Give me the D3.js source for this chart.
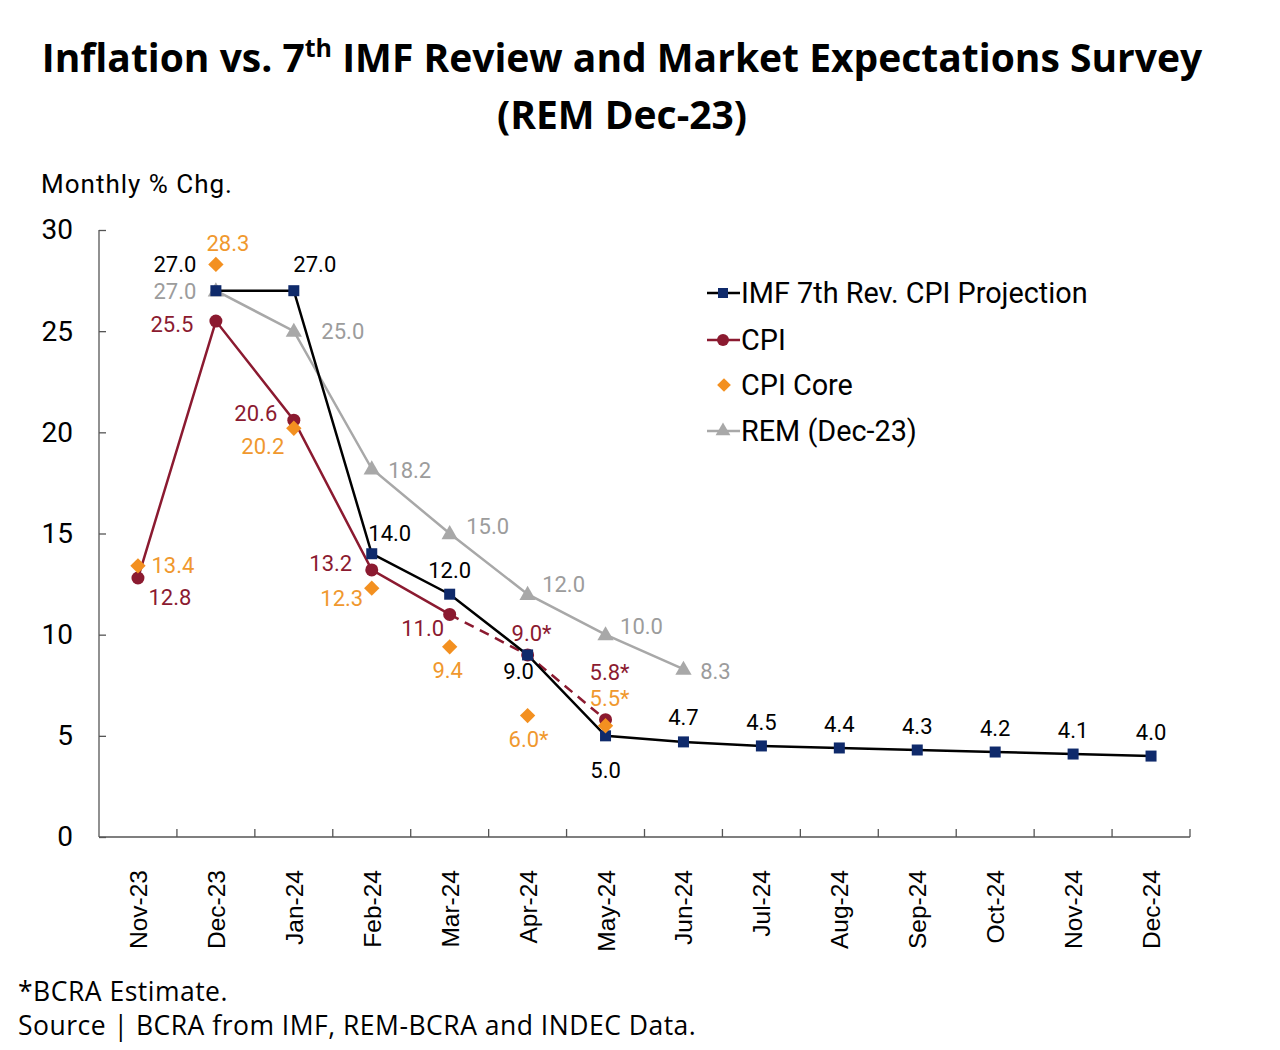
<!DOCTYPE html>
<html><head><meta charset="utf-8">
<script src="https://cdn.jsdelivr.net/npm/d3@7"></script>
<style>body{margin:0;background:#fff}svg{display:block}</style>
</head><body>
<script>
const categories = ["Nov-23","Dec-23","Jan-24","Feb-24","Mar-24","Apr-24","May-24","Jun-24","Jul-24","Aug-24","Sep-24","Oct-24","Nov-24","Dec-24"];
const imfValues  = [null,27.0,27.0,14.0,12.0,9.0,5.0,4.7,4.5,4.4,4.3,4.2,4.1,4.0];
const cpiValues  = [12.8,25.5,20.6,13.2,11.0,9.0,5.8,null,null,null,null,null,null,null];
const coreValues = [13.4,28.3,20.2,12.3,9.4,6.0,5.5,null,null,null,null,null,null,null];
const remValues  = [null,27.0,25.0,18.2,15.0,12.0,10.0,8.3,null,null,null,null,null,null];
const estimated  = [false,false,false,false,false,true,true,false,false,false,false,false,false,false];
const yTicks = [0,5,10,15,20,25,30];
const seriesNames = ["IMF 7th Rev. CPI Projection","CPI","CPI Core","REM (Dec-23)"];

// label centre offsets (dx, dy) from each point
const imfLab  = [null,[-41,-27],[21,-27],[18,-21],[0,-24],[-9,16],[0,34],[0,-25],[0,-24],[0,-24],[0,-24],[0,-24],[0,-24],[0,-24]];
const cpiLab  = [[32,19],[-44,3],[-38,-7],[-41,-7],[-27,14],[4,-22],[4,-48]];
const coreLab = [[35,-1],[12,-21],[-31,18],[-30,10],[-2,23],[1,23],[4,-28]];
const remLab  = [null,[-41,0],[49,0],[38,1],[38,-8],[36,-10],[36,-9],[32,2]];

const W=1280,H=1050;
const svg=d3.select("body").append("svg").attr("width",W).attr("height",H);
const FONT="Roboto, 'Liberation Sans', Arial, sans-serif";
const XFONT="'Liberation Sans', Arial, sans-serif";
const TFONT="'Open Sans', Lato, sans-serif";

// title
const t1=svg.append("text").attr("x",622).attr("y",72).attr("text-anchor","middle")
  .attr("font-family",TFONT).attr("font-weight","bold").attr("font-size",39).attr("fill","#000");
t1.append("tspan").text("Inflation vs. 7");
t1.append("tspan").text("th").attr("font-size",25).attr("dy",-15);
t1.append("tspan").text(" IMF Review and Market Expectations Survey").attr("dy",15);
svg.append("text").attr("x",622).attr("y",129).attr("text-anchor","middle")
  .attr("font-family",TFONT).attr("font-weight","bold").attr("font-size",39).text("(REM Dec-23)");

svg.append("text").attr("x",41).attr("y",193).attr("font-family",FONT).attr("font-size",26)
  .attr("letter-spacing",1).text("Monthly % Chg.");

const x=d3.scaleBand().domain(categories).range([99,1190]);
const y=d3.scaleLinear().domain([0,30]).range([837,230]);
const cx=c=>x(c)+x.bandwidth()/2;

// axes
const gy=svg.append("g").attr("transform","translate(99,0)")
  .call(d3.axisLeft(y).tickValues(yTicks).tickSize(-7).tickPadding(26));
gy.selectAll("text").attr("font-family",FONT).attr("font-size",28).attr("fill","#000");
gy.selectAll("line,path").attr("stroke","#555").attr("stroke-width",1.3);
gy.select(".domain").attr("d","M0,837V230");

const gx=svg.append("g").attr("transform","translate(0,837)");
gx.append("line").attr("x1",99).attr("x2",1190).attr("stroke","#555").attr("stroke-width",1.3);
gx.selectAll("line.t").data(categories).enter().append("line")
  .attr("x1",d=>x(d)+x.bandwidth()).attr("x2",d=>x(d)+x.bandwidth())
  .attr("y1",0).attr("y2",-8).attr("stroke","#555").attr("stroke-width",1.3);
gx.selectAll("text").data(categories).enter().append("text")
  .attr("transform",d=>`translate(${cx(d)+9},33) rotate(-90)`).attr("text-anchor","end")
  .attr("font-family",XFONT).attr("font-size",24.5).attr("fill","#000").text(d=>d);

const C_IMF="#000",C_IMFM="#0f2a6b",C_CPI="#8b1a30",C_CORE="#f39020",C_REM="#a8a8a8";
const C_CPI_T="#8b1a30",C_CORE_T="#f0982e",C_REM_T="#9c9c9c";

const pts=vals=>categories.map((c,i)=>({c,i,v:vals[i]})).filter(d=>d.v!=null);
const line=d3.line().x(d=>cx(d.c)).y(d=>y(d.v));

// REM
const rem=pts(remValues);
svg.append("path").attr("d",line(rem)).attr("fill","none").attr("stroke",C_REM).attr("stroke-width",2.5);
svg.selectAll(null).data(rem).enter().append("path")
  .attr("d",d3.symbol(d3.symbolTriangle,115)()).attr("transform",d=>`translate(${cx(d.c)},${y(d.v)+1})`).attr("fill",C_REM);

// CPI (solid up to Mar-24, dashed for estimates)
const cpi=pts(cpiValues);
const cpiSolid=cpi.filter(d=>!estimated[d.i]);
const lastActual=cpiSolid[cpiSolid.length-1].i;
const cpiDash=cpi.filter(d=>d.i>=lastActual);
svg.append("path").attr("d",line(cpiSolid)).attr("fill","none").attr("stroke",C_CPI).attr("stroke-width",2.5);
svg.append("path").attr("d",line(cpiDash)).attr("fill","none").attr("stroke",C_CPI).attr("stroke-width",2.5).attr("stroke-dasharray","10,7");

// IMF
const imf=pts(imfValues);
svg.append("path").attr("d",line(imf)).attr("fill","none").attr("stroke",C_IMF).attr("stroke-width",2.5);

svg.selectAll(null).data(cpi).enter().append("circle")
  .attr("cx",d=>cx(d.c)).attr("cy",d=>y(d.v)).attr("r",6.5).attr("fill",C_CPI);
svg.selectAll(null).data(imf).enter().append("rect")
  .attr("x",d=>cx(d.c)-5.5).attr("y",d=>y(d.v)-5.5).attr("width",11).attr("height",11).attr("fill",C_IMFM);
const core=pts(coreValues);
svg.selectAll(null).data(core).enter().append("path")
  .attr("d",d3.symbol(d3.symbolDiamond2,150)()).attr("transform",d=>`translate(${cx(d.c)},${y(d.v)})`).attr("fill",C_CORE);

// labels
function labels(data,offs,color,star){
  svg.selectAll(null).data(data).enter().append("text")
    .attr("x",d=>cx(d.c)+offs[d.i][0]).attr("y",d=>y(d.v)+offs[d.i][1]+8)
    .attr("text-anchor","middle").attr("font-family",FONT).attr("font-size",22).attr("fill",color)
    .text(d=>d.v.toFixed(1)+(star&&estimated[d.i]?"*":""));
}
labels(rem,remLab,C_REM_T,false);
labels(imf,imfLab,"#000",false);
labels(cpi,cpiLab,C_CPI_T,true);
labels(core,coreLab,C_CORE_T,true);

// legend
const lg=svg.append("g").attr("font-family",FONT).attr("font-size",28.8);
const ly=[293,340,385,431];
const lx=707;
lg.append("line").attr("x1",lx).attr("x2",lx+33).attr("y1",ly[0]).attr("y2",ly[0]).attr("stroke","#000").attr("stroke-width",2.5);
lg.append("rect").attr("x",lx+11).attr("y",ly[0]-5).attr("width",10).attr("height",10).attr("fill",C_IMFM);
lg.append("line").attr("x1",lx).attr("x2",lx+33).attr("y1",ly[1]).attr("y2",ly[1]).attr("stroke",C_CPI).attr("stroke-width",2.5);
lg.append("circle").attr("cx",lx+16).attr("cy",ly[1]).attr("r",6).attr("fill",C_CPI);
lg.append("path").attr("d",d3.symbol(d3.symbolDiamond2,120)()).attr("transform",`translate(${lx+17},${ly[2]})`).attr("fill",C_CORE);
lg.append("line").attr("x1",lx).attr("x2",lx+33).attr("y1",ly[3]).attr("y2",ly[3]).attr("stroke",C_REM).attr("stroke-width",2.5);
lg.append("path").attr("d",d3.symbol(d3.symbolTriangle,95)()).attr("transform",`translate(${lx+16},${ly[3]})`).attr("fill",C_REM);
lg.selectAll(null).data(seriesNames).enter().append("text")
  .attr("x",lx+34).attr("y",(d,i)=>ly[i]+10).attr("fill","#000").text(d=>d);

// footer
svg.append("text").attr("x",18).attr("y",1001).attr("font-family",TFONT).attr("font-size",26.5).attr("letter-spacing",0.5).text("*BCRA Estimate.");
svg.append("text").attr("x",18).attr("y",1035).attr("font-family",TFONT).attr("font-size",26.5).attr("letter-spacing",0.5).text("Source | BCRA from IMF, REM-BCRA and INDEC Data.");
</script>
</body></html>
